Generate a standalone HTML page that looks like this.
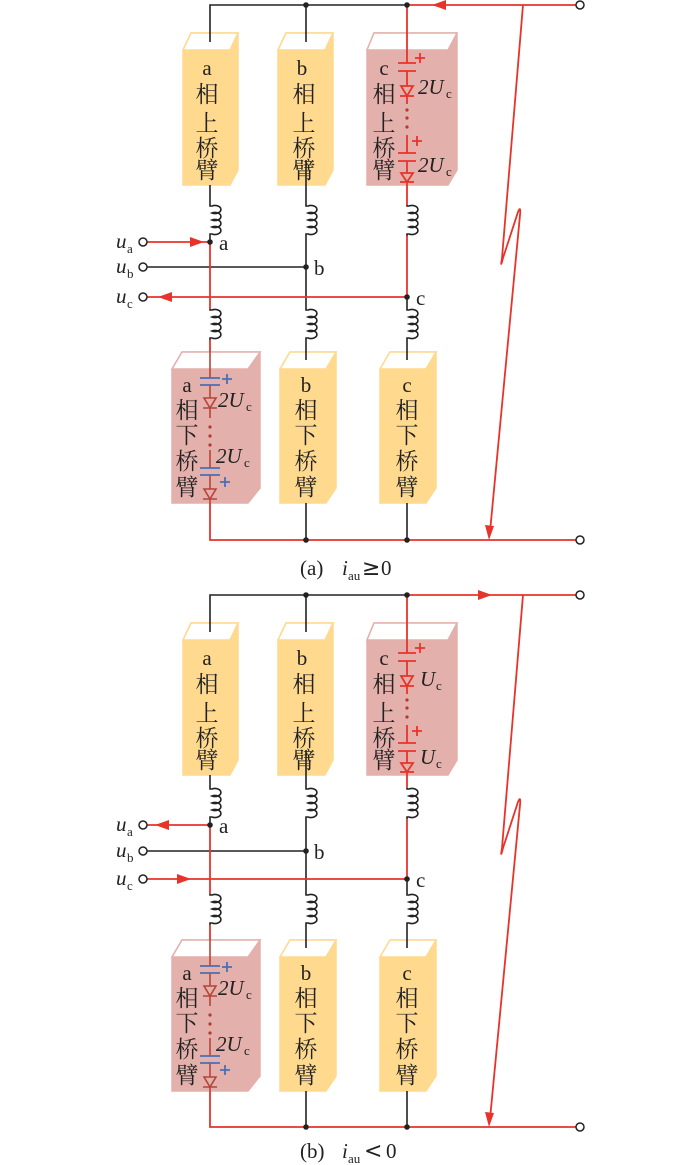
<!DOCTYPE html>
<html><head><meta charset="utf-8"><style>
html,body{margin:0;padding:0;background:#fff;}
svg{display:block;}
.cj{font-family:"Noto Serif CJK SC","Liberation Serif",serif;font-size:23px;fill:#222;}
.lt{font-family:"Liberation Serif",serif;font-size:21px;fill:#222;}
.it{font-family:"Liberation Serif",serif;font-style:italic;font-size:21px;fill:#222;}
.sb{font-family:"Liberation Serif",serif;font-size:13px;fill:#222;}
.ge{font-family:"DejaVu Sans",sans-serif;font-size:22px;fill:#222;}
</style></head><body>
<svg width="700" height="1165" viewBox="0 0 700 1165" xmlns="http://www.w3.org/2000/svg">
<defs>
<path id="coil" d="M0,0 v1 h2 a6,4 0 1 1 0,7 a6,4 0 1 1 0,7 a6,4 0 1 1 0,7 a6,4 0 1 1 0,7 h-2 v2" fill="none" stroke="#222" stroke-width="1.6"/>
</defs>

<!-- ================= PANEL A ================= -->
<g>
<g stroke-width="1.5">
<polygon points="183,50 191,33 238,33 238,170 230,185 183,185" fill="#FFD98E" stroke="#FFD98E"/>
<polygon points="183,50 191,33 238,33 230,50" fill="#fff" stroke="#FFD98E"/>
<polygon points="278,50 286,33 333,33 333,170 325,185 278,185" fill="#FFD98E" stroke="#FFD98E"/>
<polygon points="278,50 286,33 333,33 325,50" fill="#fff" stroke="#FFD98E"/>
<polygon points="367,50 374,33 457,33 457,170 448,185 367,185" fill="#E4B0AC" stroke="#E4B0AC"/>
<polygon points="367,50 374,33 457,33 448,50" fill="#fff" stroke="#E4B0AC"/>
<polygon points="172,369 182,352 260,352 260,488 248,503 172,503" fill="#E4B0AC" stroke="#E4B0AC"/>
<polygon points="172,369 182,352 260,352 248,369" fill="#fff" stroke="#E4B0AC"/>
<polygon points="280,369 290,352 336,352 336,488 326,503 280,503" fill="#FFD98E" stroke="#FFD98E"/>
<polygon points="280,369 290,352 336,352 326,369" fill="#fff" stroke="#FFD98E"/>
<polygon points="380,369 390,352 436,352 436,488 426,503 380,503" fill="#FFD98E" stroke="#FFD98E"/>
<polygon points="380,369 390,352 436,352 426,369" fill="#fff" stroke="#FFD98E"/>
</g>
<g text-anchor="middle">
<text class="lt" x="207" y="75">a</text><text class="cj" x="207" y="102">相</text><text class="cj" x="207" y="131">上</text><text class="cj" x="207" y="156">桥</text><text class="cj" x="207" y="178">臂</text>
<text class="lt" x="302" y="75">b</text><text class="cj" x="304" y="102">相</text><text class="cj" x="304" y="131">上</text><text class="cj" x="304" y="156">桥</text><text class="cj" x="304" y="178">臂</text>
<text class="lt" x="384" y="75">c</text><text class="cj" x="384" y="102">相</text><text class="cj" x="384" y="131">上</text><text class="cj" x="384" y="156">桥</text><text class="cj" x="384" y="178">臂</text>
<text class="lt" x="187" y="392">a</text><text class="cj" x="187" y="418">相</text><text class="cj" x="187" y="443">下</text><text class="cj" x="187" y="469">桥</text><text class="cj" x="187" y="495">臂</text>
<text class="lt" x="306" y="392">b</text><text class="cj" x="306" y="418">相</text><text class="cj" x="306" y="443">下</text><text class="cj" x="306" y="469">桥</text><text class="cj" x="306" y="495">臂</text>
<text class="lt" x="407" y="392">c</text><text class="cj" x="407" y="418">相</text><text class="cj" x="407" y="443">下</text><text class="cj" x="407" y="469">桥</text><text class="cj" x="407" y="495">臂</text>
</g>
<g stroke="#222" stroke-width="1.6" fill="none">
<path d="M210,42 V5 H407"/>
<path d="M306,5 V42"/>
<path d="M210,185 V205"/><use href="#coil" x="210" y="205"/><path d="M210,236 V242"/>
<path d="M306,160 V205"/><use href="#coil" x="306" y="205"/><path d="M306,236 V309"/><use href="#coil" x="306" y="309"/><path d="M306,340 V360"/>
<path d="M306,503 V540"/>
<path d="M407,297 V309"/><use href="#coil" x="407" y="309"/><path d="M407,340 V360"/>
<path d="M407,503 V540"/>
<path d="M147,267 H306"/>
</g>
<g stroke="#E8332A" stroke-width="1.8" fill="none">
<path d="M407,5 H576"/>
<path d="M407,5 V63 M407,71 V86 M407,96 V104 M407,135 V153 M407,161 V173 M407,182 V205"/>
<path d="M407,236 V297"/>
<path d="M147,242 H210"/>
<path d="M147,297 H407"/>
<path d="M210,242 V309 M210,340 V352"/>
<path d="M210,503 V540 H576"/>
<path d="M523,5 L502,258 Q500,270 503,258 L518,212 Q521,205 520,215 L490,532"/>
</g>
<use href="#coil" x="407" y="205"/><use href="#coil" x="210" y="309"/>
<g stroke="#E8332A" stroke-width="1.8" fill="none">
<path d="M398,63 H416 M398,71 H416"/>
<path d="M401,86 H413 L407,96 Z M400,96 H414"/>
<path d="M398,153 H416 M398,161 H416"/>
<path d="M401,173 H413 L407,182 Z M400,182 H414"/>
<path d="M415,58 H425 M420,53 V63 M412,141 H422 M417,136 V146"/>
</g>
<g fill="#B03A2E"><circle cx="407" cy="110" r="1.6"/><circle cx="407" cy="118" r="1.6"/><circle cx="407" cy="127" r="1.6"/></g>
<text class="it" x="418" y="94">2U</text><text class="sb" x="446" y="98">c</text>
<text class="it" x="418" y="172">2U</text><text class="sb" x="446" y="176">c</text>
<g stroke="#B5443A" stroke-width="1.6" fill="none">
<path d="M210,352 V378 M210,385 V398 M210,408 V418 M210,450 V468 M210,475 V489 M210,499 V503"/>
<path d="M204,398 H216 L210,408 Z M203,408 H217"/>
<path d="M204,489 H216 L210,499 Z M203,499 H217"/>
</g>
<g stroke="#4A6FB5" stroke-width="1.8" fill="none">
<path d="M200,378 H220 M200,385 H220 M200,468 H220 M200,475 H220"/>
<path d="M222,379 H232 M227,374 V384 M220,482 H230 M225,477 V487"/>
</g>
<g fill="#B03A2E"><circle cx="210" cy="427" r="1.6"/><circle cx="210" cy="436" r="1.6"/><circle cx="210" cy="445" r="1.6"/></g>
<text class="it" x="218" y="407">2U</text><text class="sb" x="246" y="411">c</text>
<text class="it" x="216" y="463">2U</text><text class="sb" x="244" y="467">c</text>
<g fill="#E8332A">
<polygon points="432,5 446,0 446,10"/>
<polygon points="204,242 190,237 190,247"/>
<polygon points="158,297 172,292 172,302"/>
<polygon points="489,540 485,525 494,526"/>
</g>
<g fill="#222"><circle cx="306" cy="5" r="2.8"/><circle cx="407" cy="5" r="2.8"/><circle cx="210" cy="242" r="2.8"/><circle cx="306" cy="267" r="2.8"/><circle cx="407" cy="297" r="2.8"/><circle cx="306" cy="540" r="2.8"/><circle cx="407" cy="540" r="2.8"/></g>
<g fill="#fff" stroke="#222" stroke-width="1.5"><circle cx="580" cy="5" r="4"/><circle cx="580" cy="540" r="4"/><circle cx="143" cy="242" r="4"/><circle cx="143" cy="267" r="4"/><circle cx="143" cy="297" r="4"/></g>
<text class="it" x="116" y="248">u</text><text class="sb" x="127" y="253">a</text>
<text class="it" x="116" y="273">u</text><text class="sb" x="127" y="278">b</text>
<text class="it" x="116" y="303">u</text><text class="sb" x="127" y="308">c</text>
<text class="lt" x="219" y="250">a</text><text class="lt" x="314" y="275">b</text><text class="lt" x="416" y="305">c</text>
<text class="lt" x="300" y="575">(a)</text><text class="it" x="342" y="575">i</text><text class="sb" x="348" y="580">au</text><text class="ge" x="362" y="575">≥</text><text class="lt" x="381" y="575">0</text>
</g>

<!-- ================= PANEL B ================= -->
<g transform="translate(0,590)">
<g stroke-width="1.5">
<polygon points="183,50 191,33 238,33 238,170 230,185 183,185" fill="#FFD98E" stroke="#FFD98E"/>
<polygon points="183,50 191,33 238,33 230,50" fill="#fff" stroke="#FFD98E"/>
<polygon points="278,50 286,33 333,33 333,170 325,185 278,185" fill="#FFD98E" stroke="#FFD98E"/>
<polygon points="278,50 286,33 333,33 325,50" fill="#fff" stroke="#FFD98E"/>
<polygon points="367,50 374,33 457,33 457,170 448,185 367,185" fill="#E4B0AC" stroke="#E4B0AC"/>
<polygon points="367,50 374,33 457,33 448,50" fill="#fff" stroke="#E4B0AC"/>
<polygon points="172,367 182,350 260,350 260,486 248,501 172,501" fill="#E4B0AC" stroke="#E4B0AC"/>
<polygon points="172,367 182,350 260,350 248,367" fill="#fff" stroke="#E4B0AC"/>
<polygon points="280,367 290,350 336,350 336,486 326,501 280,501" fill="#FFD98E" stroke="#FFD98E"/>
<polygon points="280,367 290,350 336,350 326,367" fill="#fff" stroke="#FFD98E"/>
<polygon points="380,367 390,350 436,350 436,486 426,501 380,501" fill="#FFD98E" stroke="#FFD98E"/>
<polygon points="380,367 390,350 436,350 426,367" fill="#fff" stroke="#FFD98E"/>
</g>
<g text-anchor="middle">
<text class="lt" x="207" y="75">a</text><text class="cj" x="207" y="102">相</text><text class="cj" x="207" y="131">上</text><text class="cj" x="207" y="156">桥</text><text class="cj" x="207" y="178">臂</text>
<text class="lt" x="302" y="75">b</text><text class="cj" x="304" y="102">相</text><text class="cj" x="304" y="131">上</text><text class="cj" x="304" y="156">桥</text><text class="cj" x="304" y="178">臂</text>
<text class="lt" x="384" y="75">c</text><text class="cj" x="384" y="102">相</text><text class="cj" x="384" y="131">上</text><text class="cj" x="384" y="156">桥</text><text class="cj" x="384" y="178">臂</text>
<text class="lt" x="187" y="390">a</text><text class="cj" x="187" y="416">相</text><text class="cj" x="187" y="441">下</text><text class="cj" x="187" y="467">桥</text><text class="cj" x="187" y="493">臂</text>
<text class="lt" x="306" y="390">b</text><text class="cj" x="306" y="416">相</text><text class="cj" x="306" y="441">下</text><text class="cj" x="306" y="467">桥</text><text class="cj" x="306" y="493">臂</text>
<text class="lt" x="407" y="390">c</text><text class="cj" x="407" y="416">相</text><text class="cj" x="407" y="441">下</text><text class="cj" x="407" y="467">桥</text><text class="cj" x="407" y="493">臂</text>
</g>
<g stroke="#222" stroke-width="1.6" fill="none">
<path d="M210,42 V5 H407"/>
<path d="M306,5 V42"/>
<path d="M210,185 V198"/><use href="#coil" x="210" y="198"/><path d="M210,229 V235"/>
<path d="M306,160 V198"/><use href="#coil" x="306" y="198"/><path d="M306,229 V304"/><use href="#coil" x="306" y="304"/><path d="M306,335 V358"/>
<path d="M306,501 V537"/>
<path d="M407,289 V304"/><use href="#coil" x="407" y="304"/><path d="M407,335 V358"/>
<path d="M407,501 V537"/>
<path d="M147,261 H306"/>
</g>
<g stroke="#E8332A" stroke-width="1.8" fill="none">
<path d="M407,5 H576"/>
<path d="M407,5 V63 M407,71 V86 M407,96 V104 M407,135 V153 M407,161 V173 M407,182 V198"/>
<path d="M407,229 V289"/>
<path d="M147,235 H210"/>
<path d="M147,289 H407"/>
<path d="M210,235 V304 M210,335 V350"/>
<path d="M210,501 V537 H576"/>
<path d="M523,5 L502,258 Q500,270 503,258 L518,212 Q521,205 520,215 L490,529"/>
</g>
<use href="#coil" x="407" y="198"/><use href="#coil" x="210" y="304"/>
<g stroke="#E8332A" stroke-width="1.8" fill="none">
<path d="M398,63 H416 M398,71 H416"/>
<path d="M401,86 H413 L407,96 Z M400,96 H414"/>
<path d="M398,153 H416 M398,161 H416"/>
<path d="M401,173 H413 L407,182 Z M400,182 H414"/>
<path d="M415,58 H425 M420,53 V63 M412,141 H422 M417,136 V146"/>
</g>
<g fill="#B03A2E"><circle cx="407" cy="110" r="1.6"/><circle cx="407" cy="118" r="1.6"/><circle cx="407" cy="127" r="1.6"/></g>
<text class="it" x="420" y="96">U</text><text class="sb" x="436" y="100">c</text>
<text class="it" x="420" y="174">U</text><text class="sb" x="436" y="178">c</text>
<g stroke="#B5443A" stroke-width="1.6" fill="none">
<path d="M210,350 V376 M210,383 V396 M210,406 V416 M210,448 V466 M210,473 V487 M210,497 V501"/>
<path d="M204,396 H216 L210,406 Z M203,406 H217"/>
<path d="M204,487 H216 L210,497 Z M203,497 H217"/>
</g>
<g stroke="#4A6FB5" stroke-width="1.8" fill="none">
<path d="M200,376 H220 M200,383 H220 M200,466 H220 M200,473 H220"/>
<path d="M222,377 H232 M227,372 V382 M220,480 H230 M225,475 V485"/>
</g>
<g fill="#B03A2E"><circle cx="210" cy="425" r="1.6"/><circle cx="210" cy="434" r="1.6"/><circle cx="210" cy="443" r="1.6"/></g>
<text class="it" x="218" y="405">2U</text><text class="sb" x="246" y="409">c</text>
<text class="it" x="216" y="461">2U</text><text class="sb" x="244" y="465">c</text>
<g fill="#E8332A">
<polygon points="492,5 478,0 478,10"/>
<polygon points="155,235 169,230 169,240"/>
<polygon points="191,289 177,284 177,294"/>
<polygon points="489,537 485,522 494,523"/>
</g>
<g fill="#222"><circle cx="306" cy="5" r="2.8"/><circle cx="407" cy="5" r="2.8"/><circle cx="210" cy="235" r="2.8"/><circle cx="306" cy="261" r="2.8"/><circle cx="407" cy="289" r="2.8"/><circle cx="306" cy="537" r="2.8"/><circle cx="407" cy="537" r="2.8"/></g>
<g fill="#fff" stroke="#222" stroke-width="1.5"><circle cx="580" cy="5" r="4"/><circle cx="580" cy="537" r="4"/><circle cx="143" cy="235" r="4"/><circle cx="143" cy="261" r="4"/><circle cx="143" cy="289" r="4"/></g>
<text class="it" x="116" y="241">u</text><text class="sb" x="127" y="246">a</text>
<text class="it" x="116" y="267">u</text><text class="sb" x="127" y="272">b</text>
<text class="it" x="116" y="295">u</text><text class="sb" x="127" y="300">c</text>
<text class="lt" x="219" y="243">a</text><text class="lt" x="314" y="269">b</text><text class="lt" x="416" y="297">c</text>
<text class="lt" x="300" y="568">(b)</text><text class="it" x="342" y="568">i</text><text class="sb" x="348" y="573">au</text><text class="ge" x="364" y="568">&lt;</text><text class="lt" x="386" y="568">0</text>
</g>
</svg>
</body></html>
